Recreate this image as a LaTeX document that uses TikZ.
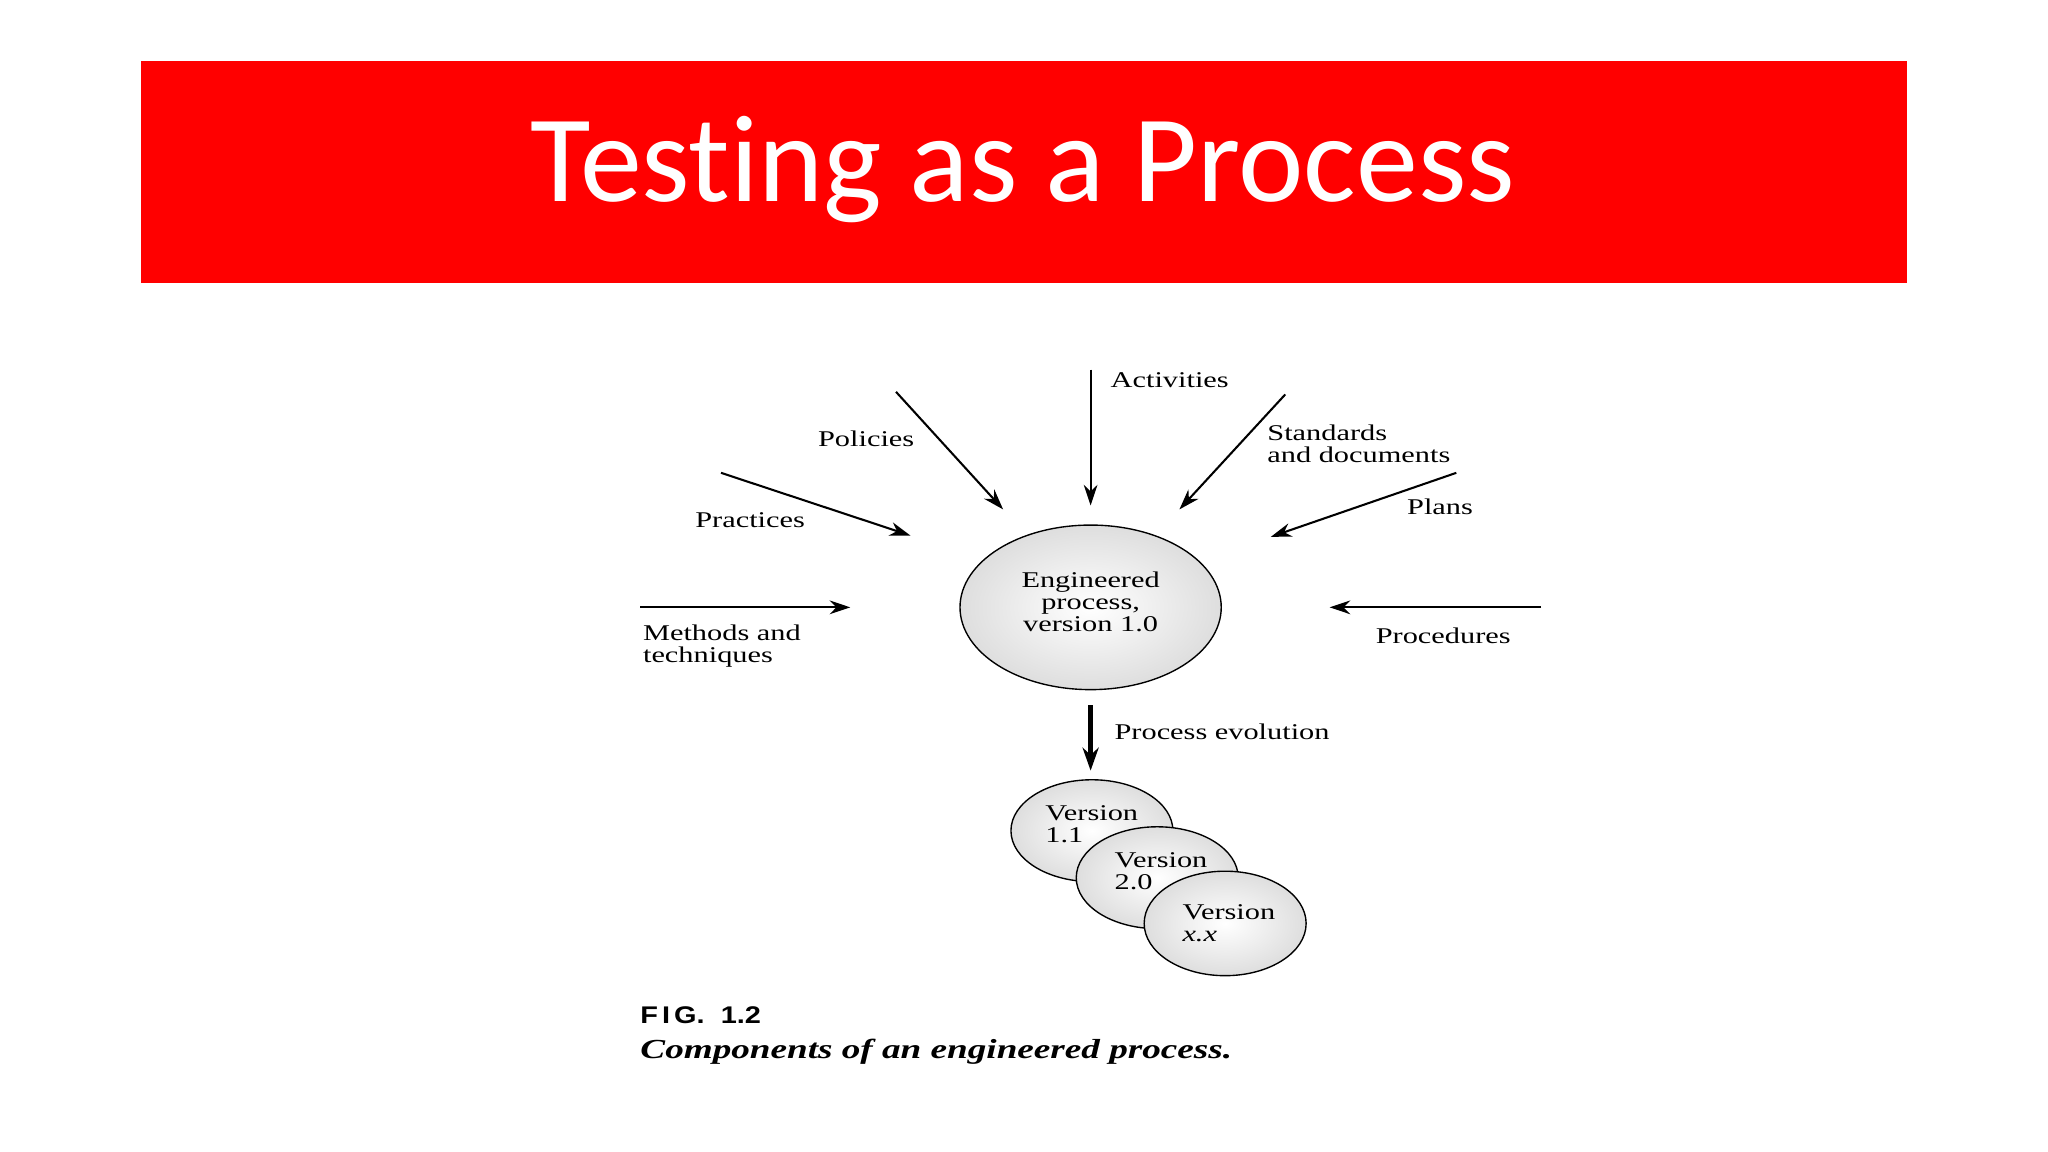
\documentclass[tikz,border=0pt]{standalone}
\usepackage{fontspec}
\usetikzlibrary{arrows.meta}
\setmainfont[FakeStretch=1.35]{Liberation Serif}
\newfontfamily\titlefont[Ligatures=NoCommon]{Carlito}
\newfontfamily\figfont[FakeStretch=1.2]{Liberation Sans}
\begin{document}
\begin{tikzpicture}[x=0.02cm,y=-0.02cm,
  lbl/.style={anchor=west,align=left,font=\fontsize{9.8}{9.6}\selectfont,inner sep=0pt},
  arr/.style={-{Stealth[length=9pt,width=6pt]},line width=0.9pt},
  bub/.style={shade,inner color=white,outer color=black!13,draw,line width=0.6pt}]
\useasboundingbox (0,0) rectangle (1568,882);
\fill[white] (0,0) rectangle (1568,882);
\fill[red] (108,47) rectangle (1460,217);
\node[white,font=\titlefont\fontsize{54}{56}\selectfont] (title) at (783,130) {Testing as a Process};
% main circle
\path[bub] (835,465) ellipse [x radius=100,y radius=63];
\node[align=center,font=\fontsize{9.8}{9.6}\selectfont] (maint) at (835,461) {Engineered\\process,\\version 1.0};
% arrows
\coordinate (a1) at (835,283); \coordinate (b1) at (835,387);
\coordinate (a2) at (686,300); \coordinate (b2) at (768,390);
\coordinate (a3) at (984,302); \coordinate (b3) at (903,390);
\coordinate (a4) at (552,362); \coordinate (b4) at (697,410);
\coordinate (a5) at (1115,362); \coordinate (b5) at (973,411);
\coordinate (a6) at (490,465); \coordinate (b6) at (651,465);
\coordinate (a7) at (1180,465); \coordinate (b7) at (1018,465);
\foreach \i in {1,...,7} {\draw[arr] (a\i) -- (b\i);}
\node[lbl] (l1) at (850,291) {Activities};
\node[lbl] (l2) at (626,336) {Policies};
\node[lbl] (l3) at (970,340) {Standards\\and documents};
\node[lbl] (l4) at (532,398) {Practices};
\node[lbl] (l5) at (1077,388) {Plans};
\node[lbl] (l6) at (492,495) {Methods and\\techniques};
\node[lbl] (l7) at (1053,487) {Procedures};
% evolution
\coordinate (e1) at (835,540); \coordinate (e2) at (835,590);
\draw[-{Stealth[length=10pt,width=7pt]},line width=2.2pt] (e1) -- (e2);
\node[lbl] (l8) at (853,560) {Process evolution};
% versions
\path[bub] (836,636) ellipse [x radius=62,y radius=39];
\node[lbl] (v1) at (800,631) {Version\\1.1};
\path[bub] (886,672) ellipse [x radius=62,y radius=39];
\node[lbl] (v2) at (853,667) {Version\\2.0};
\path[bub] (938,707) ellipse [x radius=62,y radius=40];
\node[lbl] (v3) at (905,707) {Version\\\textit{x.x}};
% caption
\node[lbl,font=\figfont\bfseries\fontsize{10.5}{11}\selectfont] (fig) at (490,777) {F\,I\,G.\ \ 1.2};
\node[lbl,font=\bfseries\itshape\fontsize{12}{11}\selectfont] (cap) at (490,805) {Components of an engineered process.};
\end{tikzpicture}
\end{document}
